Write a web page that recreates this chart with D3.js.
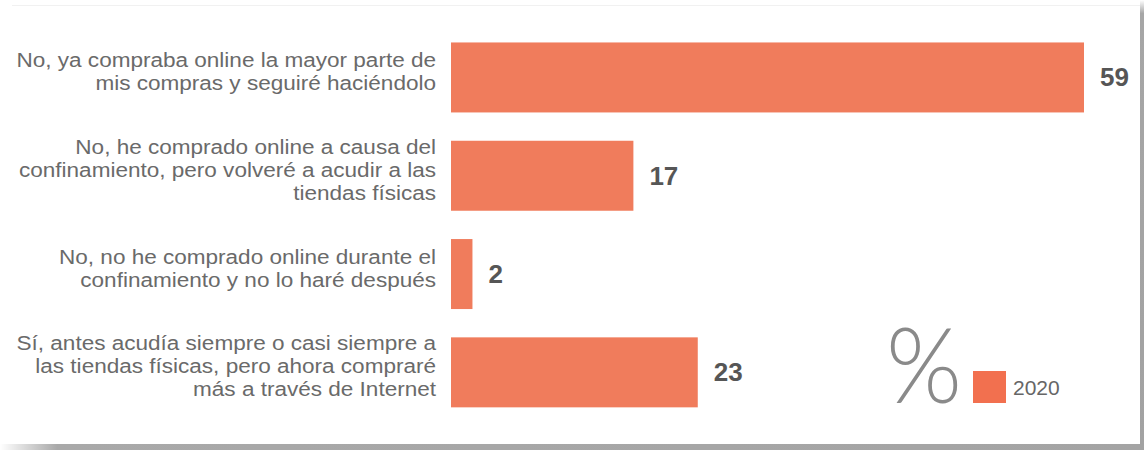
<!DOCTYPE html>
<html lang="es">
<head>
<meta charset="utf-8">
<script src="https://cdn.jsdelivr.net/npm/d3@7"></script>
<style>
  html, body { margin: 0; padding: 0; background: #ffffff; }
  svg { display: block; }
</style>
</head>
<body>
<svg id="chart" width="1144" height="450"></svg>
<script>
// Survey answers (one entry per bar, "\n" marks a line break in the label)
const categories = [
  "No, ya compraba online la mayor parte de\nmis compras y seguiré haciéndolo",
  "No, he comprado online a causa del\nconfinamiento, pero volveré a acudir a las\ntiendas físicas",
  "No, no he comprado online durante el\nconfinamiento y no lo haré después",
  "Sí, antes acudía siempre o casi siempre a\nlas tiendas físicas, pero ahora compraré\nmás a través de Internet"
];
const values2020 = [59, 17, 2, 23];
const seriesName = "2020";
const unitLabel = "%";

const W = 1144, H = 450;
const svg = d3.select("#chart");

// Card shadow (right and bottom edges)
const defs = svg.append("defs");
const grad = defs.append("linearGradient").attr("id", "shadowBottom")
  .attr("x1", "0").attr("x2", "1").attr("y1", "0").attr("y2", "0");
grad.append("stop").attr("offset", "0").attr("stop-color", "#ffffff");
grad.append("stop").attr("offset", "0.05").attr("stop-color", "#a9a9a9");
grad.append("stop").attr("offset", "1").attr("stop-color", "#a4a4a4");
const gradR = defs.append("linearGradient").attr("id", "shadowRight")
  .attr("x1", "0").attr("x2", "0").attr("y1", "0").attr("y2", "1");
gradR.append("stop").attr("offset", "0").attr("stop-color", "#ffffff");
gradR.append("stop").attr("offset", "0.03").attr("stop-color", "#a6a6a6");
gradR.append("stop").attr("offset", "1").attr("stop-color", "#a2a2a2");

svg.append("rect").attr("x", 0).attr("y", 0).attr("width", W).attr("height", H).attr("fill", "#ffffff");
svg.append("rect").attr("x", 0).attr("y", 444).attr("width", 1144).attr("height", 6).attr("fill", "url(#shadowBottom)");
svg.append("rect").attr("x", 1140).attr("y", 0).attr("width", 4).attr("height", 450).attr("fill", "url(#shadowRight)");
svg.append("line").attr("x1", 12).attr("x2", 1140).attr("y1", 5.5).attr("y2", 5.5)
  .attr("stroke", "#f1f1f1").attr("stroke-width", 1);

// Scales
const x = d3.scaleLinear().domain([0, 59]).range([451, 1084]);
const y = d3.scaleBand().domain(categories).range([28.3, 421.5])
  .paddingInner(0.288).paddingOuter(0.144);

const barColor = "#f07c5c";
const data = categories.map((c, i) => ({ cat: c, value: values2020[i] }));

// Bars
svg.append("g").selectAll("rect").data(data).join("rect")
  .attr("x", x(0))
  .attr("y", d => y(d.cat))
  .attr("width", d => x(d.value) - x(0))
  .attr("height", y.bandwidth())
  .attr("fill", barColor);

// Value labels
svg.append("g").selectAll("text").data(data).join("text")
  .attr("x", d => x(d.value) + 16)
  .attr("y", d => y(d.cat) + y.bandwidth() / 2 + 9)
  .attr("font-family", "'Liberation Sans', Arial, Helvetica, sans-serif")
  .attr("font-size", 26)
  .attr("font-weight", "bold")
  .attr("fill", "#565656")
  .text(d => d.value);

// Category labels: right aligned, multi-line, set in a slightly wide face
const lineH = 23;
const catG = svg.append("g")
  .attr("transform", "translate(436,0) scale(1.15,1)")
  .attr("font-family", "'Liberation Sans', Arial, Helvetica, sans-serif")
  .attr("font-size", 19.6)
  .attr("fill", "#6a6a6a")
  .attr("text-anchor", "end");
data.forEach(d => {
  const lines = d.cat.split("\n");
  const cy = y(d.cat) + y.bandwidth() / 2;
  const t = catG.append("text");
  lines.forEach((ln, i) => {
    t.append("tspan")
      .attr("x", 0)
      .attr("y", cy - 6 + 7 + (i - (lines.length - 1) / 2) * lineH)
      .text(ln);
  });
});

// Legend: unit sign and series swatch
svg.append("text")
  .attr("x", 886).attr("y", 403)
  .attr("font-family", "Lato, Inter, 'Open Sans', sans-serif")
  .attr("font-weight", 300)
  .attr("font-size", 104)
  .attr("fill", "#8a8a8a")
  .attr("textLength", 76)
  .attr("lengthAdjust", "spacingAndGlyphs")
  .text(unitLabel);

svg.append("rect")
  .attr("x", 973).attr("y", 371).attr("width", 33).attr("height", 32)
  .attr("fill", "#f2704f");
svg.append("text")
  .attr("x", 1013).attr("y", 395)
  .attr("font-family", "'Liberation Sans', Arial, Helvetica, sans-serif")
  .attr("font-size", 21)
  .attr("fill", "#666666")
  .text(seriesName);
</script>
</body>
</html>
